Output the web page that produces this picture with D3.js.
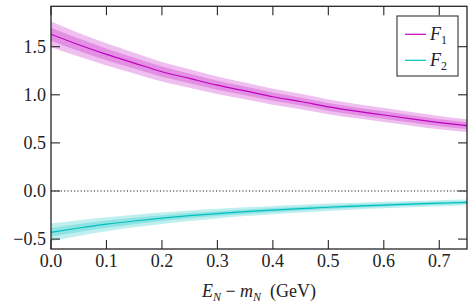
<!DOCTYPE html>
<html>
<head>
<meta charset="utf-8">
<script src="https://cdn.jsdelivr.net/npm/d3@7"></script>
</head>
<body style="margin:0">
<svg id="chart" width="475" height="308" font-family="serif"></svg>
<script>
// ---- data ----
const xVals   = [0.00, 0.05, 0.10, 0.15, 0.20, 0.25, 0.30, 0.35, 0.40, 0.45, 0.50, 0.55, 0.60, 0.65, 0.70, 0.75];
const f1      = [1.63, 1.52, 1.42, 1.33, 1.24, 1.17, 1.10, 1.04, 0.98, 0.93, 0.875, 0.83, 0.79, 0.75, 0.71, 0.68];
const f1Inner = [0.068, 0.064, 0.060, 0.056, 0.053, 0.050, 0.047, 0.045, 0.043, 0.041, 0.040, 0.039, 0.038, 0.037, 0.036, 0.035];
const f1Outer = [0.132, 0.123, 0.115, 0.108, 0.102, 0.096, 0.091, 0.087, 0.083, 0.080, 0.077, 0.075, 0.073, 0.071, 0.069, 0.067];
const f2      = [-0.43, -0.385, -0.345, -0.312, -0.283, -0.257, -0.235, -0.215, -0.198, -0.183, -0.169, -0.157, -0.146, -0.136, -0.127, -0.119];
const f2Inner = [0.046, 0.041, 0.037, 0.033, 0.030, 0.027, 0.025, 0.023, 0.021, 0.020, 0.019, 0.018, 0.017, 0.016, 0.015, 0.015];
const f2Outer = [0.092, 0.082, 0.073, 0.066, 0.060, 0.055, 0.050, 0.046, 0.043, 0.040, 0.038, 0.036, 0.034, 0.032, 0.031, 0.030];
const xTicks  = [0.0, 0.1, 0.2, 0.3, 0.4, 0.5, 0.6, 0.7];
const yTicks  = [-0.5, 0.0, 0.5, 1.0, 1.5];
const seriesNames = ["1", "2"];
const seriesColors = ["#bf00bf", "#00bfbf"];

// ---- layout ----
const FONT = "serif";
const svg = d3.select("#chart");
const L = 51, R = 467, T = 6.3, B = 249;
const x = d3.scaleLinear().domain([0, 0.75]).range([L, R]);
const y = d3.scaleLinear().domain([-0.603, 1.92]).range([B, T]);
const fmt = d3.format(".1f");
const axisColor = "#262626";

const series = [
  { vals: f1, inner: f1Inner, outer: f1Outer, color: seriesColors[0] },
  { vals: f2, inner: f2Inner, outer: f2Outer, color: seriesColors[1] }
];

svg.append("clipPath").attr("id", "clip")
  .append("rect").attr("x", L).attr("y", T).attr("width", R - L).attr("height", B - T);

const plot = svg.append("g").attr("clip-path", "url(#clip)");

plot.append("line")
  .attr("x1", L).attr("x2", R).attr("y1", y(0)).attr("y2", y(0))
  .attr("stroke", "#111").attr("stroke-width", 1)
  .attr("stroke-dasharray", "1.1,2.2");

series.forEach(s => {
  const pts = xVals.map((xv, i) => ({ x: xv, v: s.vals[i], i: s.inner[i], o: s.outer[i] }));
  const areaO = d3.area().x(d => x(d.x)).y0(d => y(d.v - d.o)).y1(d => y(d.v + d.o)).curve(d3.curveMonotoneX);
  const areaI = d3.area().x(d => x(d.x)).y0(d => y(d.v - d.i)).y1(d => y(d.v + d.i)).curve(d3.curveMonotoneX);
  const line = d3.line().x(d => x(d.x)).y(d => y(d.v)).curve(d3.curveMonotoneX);
  plot.append("path").datum(pts).attr("d", areaO).attr("fill", s.color).attr("fill-opacity", 0.25);
  plot.append("path").datum(pts).attr("d", areaI).attr("fill", s.color).attr("fill-opacity", 0.25);
  plot.append("path").datum(pts).attr("d", line).attr("fill", "none").attr("stroke", s.color).attr("stroke-width", 1.2);
});

// ticks, drawn inward on all four sides
const tickLen = 9;
function ticksH(yPos, dir) {
  svg.append("g").selectAll("line").data(xTicks).join("line")
    .attr("x1", d => x(d)).attr("x2", d => x(d))
    .attr("y1", yPos).attr("y2", yPos + dir * tickLen)
    .attr("stroke", axisColor).attr("stroke-width", 1.1);
}
function ticksV(xPos, dir) {
  svg.append("g").selectAll("line").data(yTicks).join("line")
    .attr("y1", d => y(d)).attr("y2", d => y(d))
    .attr("x1", xPos).attr("x2", xPos + dir * tickLen)
    .attr("stroke", axisColor).attr("stroke-width", 1.1);
}
ticksH(B, -1); ticksH(T, 1); ticksV(L, 1); ticksV(R, -1);

// tick labels
svg.append("g").selectAll("text").data(xTicks).join("text")
  .attr("x", d => x(d)).attr("y", 267).attr("text-anchor", "middle")
  .attr("font-family", FONT).attr("font-size", 18).attr("fill", "#222")
  .text(d => fmt(d));
svg.append("g").selectAll("text").data(yTicks).join("text")
  .attr("x", L - 5).attr("y", d => y(d) + 6).attr("text-anchor", "end")
  .attr("font-family", FONT).attr("font-size", 18).attr("fill", "#222")
  .text(d => fmt(d));

// frame
svg.append("rect").attr("x", L).attr("y", T).attr("width", R - L).attr("height", B - T)
  .attr("fill", "none").attr("stroke", axisColor).attr("stroke-width", 1.3);

// x-axis label
const xl = svg.append("text").attr("x", (L + R) / 2).attr("y", 297)
  .attr("text-anchor", "middle").attr("font-family", FONT).attr("font-size", 18).attr("fill", "#222");
xl.append("tspan").attr("font-style", "italic").text("E");
xl.append("tspan").attr("font-style", "italic").attr("font-size", 12).attr("dy", 4).text("N");
xl.append("tspan").attr("dy", -4).text("\u00a0\u2212\u00a0");
xl.append("tspan").attr("font-style", "italic").text("m");
xl.append("tspan").attr("font-style", "italic").attr("font-size", 12).attr("dy", 4).text("N");
xl.append("tspan").attr("dy", -4).text("\u00a0\u00a0(GeV)");

// legend
const lg = svg.append("g");
lg.append("rect").attr("x", 397).attr("y", 16).attr("width", 61).attr("height", 60)
  .attr("fill", "#fff").attr("stroke", "#333").attr("stroke-width", 1.1);
seriesNames.forEach((n, i) => {
  const yy = 34.3 + i * 26;
  lg.append("line").attr("x1", 405).attr("x2", 426).attr("y1", yy).attr("y2", yy)
    .attr("stroke", seriesColors[i]).attr("stroke-width", 1.2);
  const t = lg.append("text").attr("x", 430).attr("y", yy + 6)
    .attr("font-family", FONT).attr("font-size", 18).attr("fill", "#222");
  t.append("tspan").attr("font-style", "italic").text("F");
  t.append("tspan").attr("font-size", 12).attr("dy", 4).text(n);
});
</script>
</body>
</html>
